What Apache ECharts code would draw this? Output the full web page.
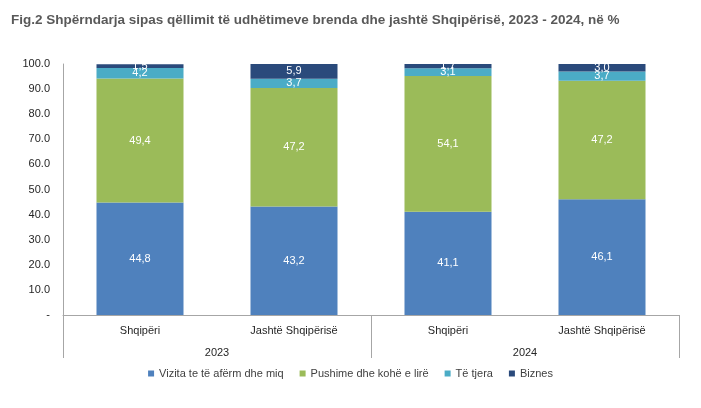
<!DOCTYPE html>
<html lang="sq">
<head>
  <meta charset="UTF-8">
  <title>Fig.2</title>
  <style>
    html, body { margin: 0; padding: 0; background: #fff; }
    #main { width: 701px; height: 408px; }
  </style>
</head>
<body>
  <div id="main"></div>
  <script src="https://cdn.jsdelivr.net/npm/echarts@6/dist/echarts.min.js"></script>
  <script>
    // kategorite dhe vitet
    const categories = ['Shqipëri', 'Jashtë Shqipërisë', 'Shqipëri', 'Jashtë Shqipërisë'];
    const years = ['2023', '2024'];
    const yTicks = [0, 10, 20, 30, 40, 50, 60, 70, 80, 90, 100];

    // vlerat ne % per cdo qellim
    const vizita = [44.8, 43.2, 41.1, 46.1];
    const pushime = [49.4, 47.2, 54.1, 47.2];
    const teTjera = [4.2, 3.7, 3.1, 3.7];
    const biznes = [1.5, 5.9, 1.7, 3.0];

    const font = '"Liberation Sans", Arial, sans-serif';
    const gray = '#a6a6a6';

    function bar(name, data, color) {
      return {
        name: name,
        type: 'bar',
        stack: 'total',
        barWidth: '56.5%',
        data: data,
        itemStyle: { color: color },
        label: {
          show: true,
          position: 'inside',
          color: '#fff',
          fontFamily: font,
          fontSize: 11,
          formatter: p => p.value.toFixed(1).replace('.', ',')
        }
      };
    }

    const chart = echarts.init(document.getElementById('main'));
    chart.setOption({
      animation: false,
      title: {
        text: 'Fig.2 Shpërndarja sipas qëllimit të udhëtimeve brenda dhe jashtë Shqipërisë, 2023 - 2024, në %',
        left: 6,
        top: 8,
        textStyle: { fontFamily: font, fontSize: 13.5, fontWeight: 'bold', color: '#595959' }
      },
      grid: { left: 63, right: 22, top: 64, bottom: 93 },
      legend: {
        bottom: 24,
        left: 'center',
        icon: 'rect',
        itemWidth: 6,
        itemHeight: 6,
        itemGap: 16,
        textStyle: { fontFamily: font, fontSize: 11, color: '#404040' },
        data: ['Vizita te të afërm dhe miq', 'Pushime dhe kohë e lirë', 'Të tjera', 'Biznes']
      },
      xAxis: [
        {
          type: 'category',
          data: categories,
          axisLine: { lineStyle: { color: gray } },
          axisTick: { show: false },
          axisLabel: { fontFamily: font, fontSize: 11, color: '#262626', margin: 10 }
        },
        {
          type: 'category',
          data: years,
          position: 'bottom',
          axisLine: { show: false },
          axisTick: { show: true, length: 43, lineStyle: { color: gray } },
          axisLabel: { fontFamily: font, fontSize: 11, color: '#262626', margin: 32 }
        }
      ],
      yAxis: {
        type: 'value',
        min: 0,
        max: 100,
        interval: 10,
        axisLine: { show: true, lineStyle: { color: gray } },
        axisTick: { show: false },
        splitLine: { show: false },
        axisLabel: {
          fontFamily: font,
          fontSize: 11,
          color: '#262626',
          margin: 13,
          formatter: v => (yTicks.indexOf(v) === 0 ? '-' : v.toFixed(1))
        }
      },
      series: [
        bar('Vizita te të afërm dhe miq', vizita, '#4f81bd'),
        bar('Pushime dhe kohë e lirë', pushime, '#9bbb59'),
        bar('Të tjera', teTjera, '#4bacc6'),
        bar('Biznes', biznes, '#2a4a7b')
      ]
    });
  </script>
</body>
</html>
